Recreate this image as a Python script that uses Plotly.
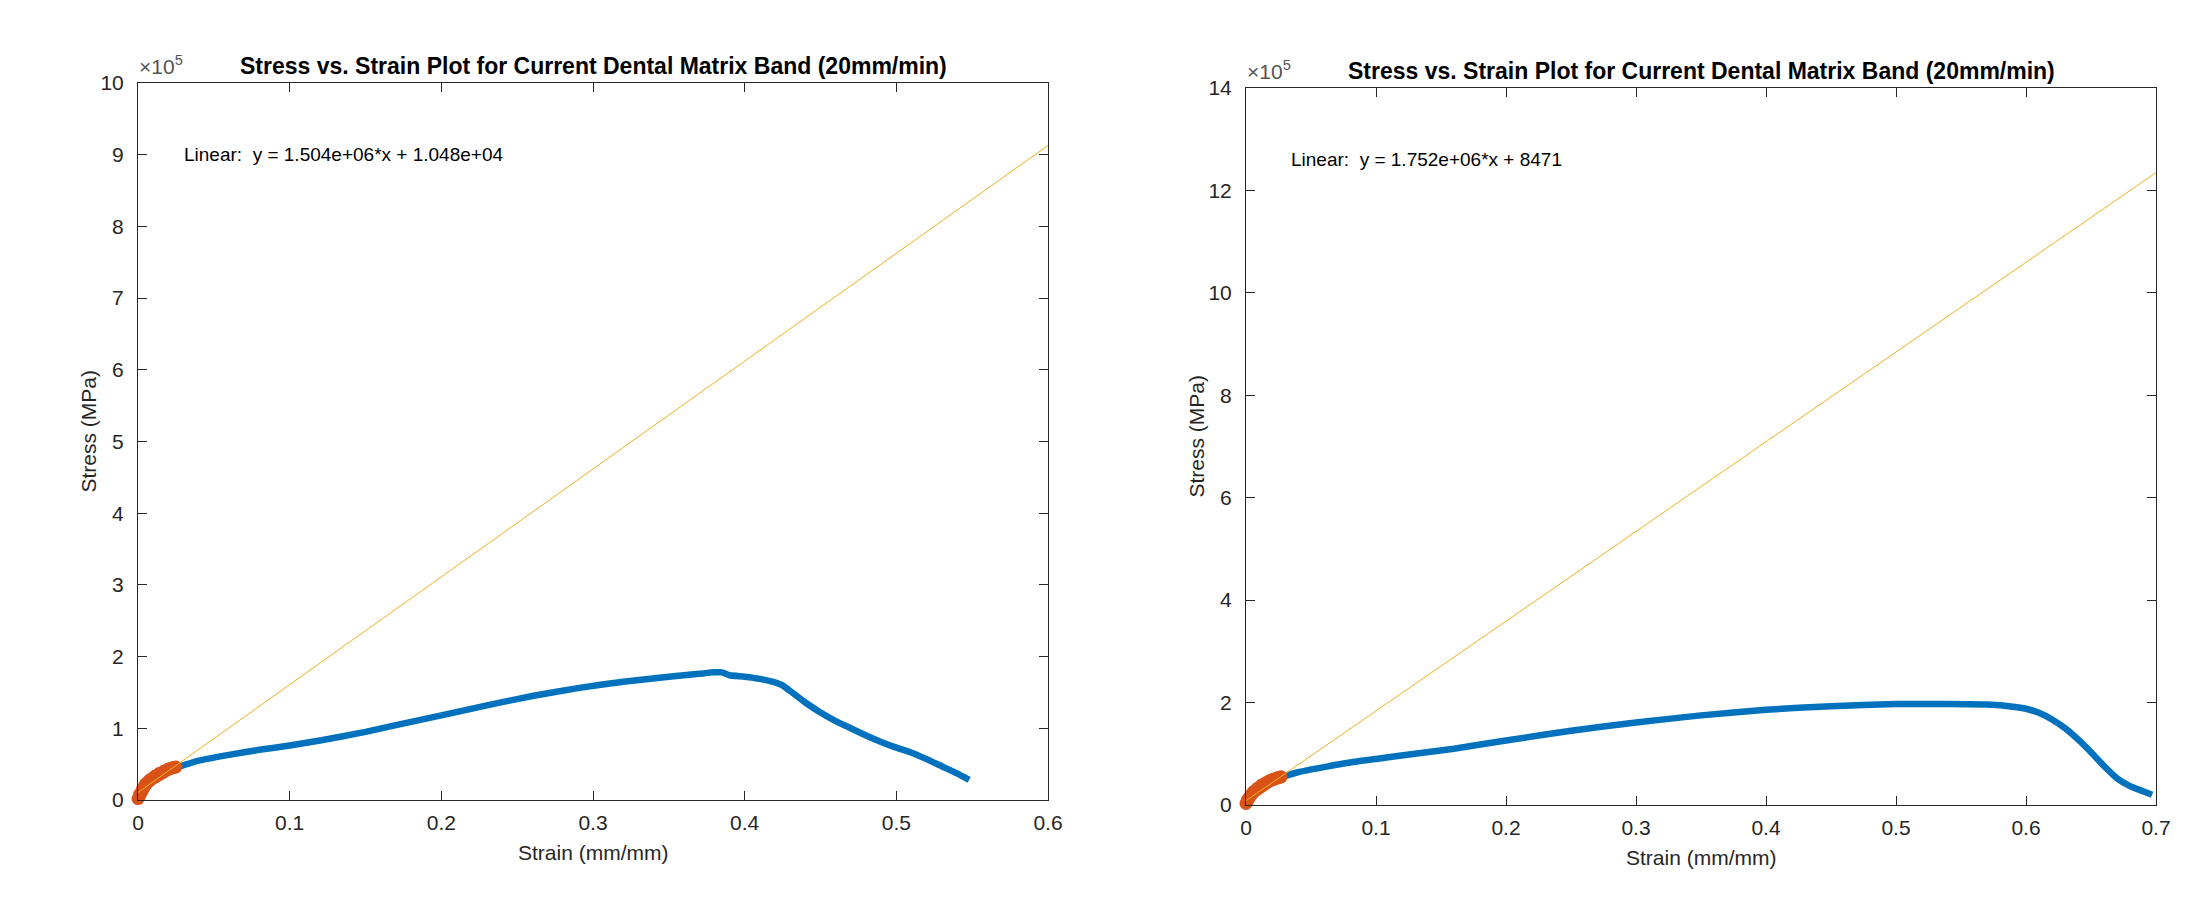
import plotly.graph_objects as go

# ---------------- data (stress in units of 1e5) ----------------
left_blue_x = [0.025, 0.04, 0.06, 0.08, 0.10, 0.12, 0.15, 0.18, 0.20, 0.23, 0.26, 0.29, 0.32,
               0.35, 0.37, 0.38, 0.385, 0.39, 0.40, 0.41, 0.42, 0.425, 0.43, 0.44, 0.45, 0.46,
               0.47, 0.48, 0.49, 0.50, 0.51, 0.52, 0.53, 0.54, 0.548]
left_blue_y = [0.45, 0.55, 0.63, 0.70, 0.76, 0.83, 0.95, 1.09, 1.18, 1.32, 1.45, 1.56, 1.65,
               1.72, 1.76, 1.78, 1.78, 1.74, 1.72, 1.69, 1.64, 1.60, 1.52, 1.36, 1.22, 1.10,
               1.00, 0.90, 0.81, 0.73, 0.66, 0.57, 0.47, 0.37, 0.28]
left_orange_x = [0.0, 0.001, 0.003, 0.005, 0.008, 0.011, 0.014, 0.017, 0.020, 0.023, 0.025]
left_orange_y = [0.02, 0.08, 0.16, 0.22, 0.28, 0.33, 0.37, 0.40, 0.43, 0.45, 0.46]
left_fit_slope, left_fit_intercept = 1.504e6, 1.048e4
left_fit_x = [0.0, 0.6]

right_blue_x = [0.028, 0.04, 0.06, 0.08, 0.10, 0.13, 0.16, 0.20, 0.25, 0.30, 0.35, 0.40, 0.45,
                0.50, 0.54, 0.57, 0.59, 0.60, 0.61, 0.62, 0.63, 0.64, 0.65, 0.66, 0.67, 0.68,
                0.69, 0.697]
right_blue_y = [0.55, 0.64, 0.74, 0.83, 0.90, 1.00, 1.10, 1.26, 1.45, 1.61, 1.75, 1.86, 1.93,
                1.97, 1.97, 1.96, 1.92, 1.88, 1.80, 1.67, 1.50, 1.28, 1.03, 0.76, 0.52, 0.37,
                0.27, 0.20]
right_orange_x = [0.0, 0.001, 0.003, 0.006, 0.009, 0.012, 0.015, 0.018, 0.021, 0.024, 0.027]
right_orange_y = [0.03, 0.10, 0.17, 0.26, 0.33, 0.39, 0.43, 0.47, 0.50, 0.53, 0.55]
right_fit_slope, right_fit_intercept = 1.752e6, 8471
right_fit_x = [0.0, 0.7]

title_text = "Stress vs. Strain Plot for Current Dental Matrix Band (20mm/min)"
left_eq = "Linear:  y = 1.504e+06*x + 1.048e+04"
right_eq = "Linear:  y = 1.752e+06*x + 8471"
scale = 1e5

BLUE, ORANGE, YELLOW = "#0072BD", "#D95319", "#EDB120"
AX = "#262626"
FONT = "Liberation Sans, Arial, Helvetica, sans-serif"
W, H = 2212, 899

fig = go.Figure()

def add_panel(xa, ya, bx, by, ox, oy, fx, slope, icpt):
    fy = [(slope * x + icpt) / scale for x in fx]
    fig.add_trace(go.Scatter(x=bx, y=by, mode="lines",
                             line=dict(color=BLUE, width=6.5, shape="spline", smoothing=0.5),
                             xaxis=xa, yaxis=ya, showlegend=False))
    fig.add_trace(go.Scatter(x=ox, y=oy, mode="lines+markers", cliponaxis=False,
                             line=dict(color=ORANGE, width=13),
                             marker=dict(color=ORANGE, size=13),
                             xaxis=xa, yaxis=ya, showlegend=False))
    fig.add_trace(go.Scatter(x=fx, y=fy, mode="lines", line=dict(color=YELLOW, width=1),
                             xaxis=xa, yaxis=ya, showlegend=False))

add_panel("x", "y", left_blue_x, left_blue_y, left_orange_x, left_orange_y,
          left_fit_x, left_fit_slope, left_fit_intercept)
add_panel("x2", "y2", right_blue_x, right_blue_y, right_orange_x, right_orange_y,
          right_fit_x, right_fit_slope, right_fit_intercept)

def px_x(p):
    return p / W

def px_y(p):
    return 1 - p / H

axis_common = dict(showline=True, linecolor=AX, linewidth=1, mirror="ticks", ticks="inside",
                   ticklen=9, tickcolor=AX, showgrid=False, zeroline=False, automargin=False,
                   tickfont=dict(family=FONT, size=21, color=AX), fixedrange=True)
xax = dict(axis_common, ticklabelstandoff=4)
yax = dict(axis_common, ticklabelstandoff=9)

L = (130, 1040, 75, 792)
R = (1238, 2148, 80, 797)

fig.update_layout(
    width=W, height=H, margin=dict(l=0, r=0, t=0, b=0, autoexpand=False),
    paper_bgcolor="white", plot_bgcolor="white",
    xaxis=dict(domain=[px_x(L[0]), px_x(L[1])], range=[0, 0.6], dtick=0.1, anchor="y", **xax),
    yaxis=dict(domain=[px_y(L[3]), px_y(L[2])], range=[0, 10], dtick=1, anchor="x", **yax),
    xaxis2=dict(domain=[px_x(R[0]), px_x(R[1])], range=[0, 0.7], dtick=0.1, anchor="y2", **xax),
    yaxis2=dict(domain=[px_y(R[3]), px_y(R[2])], range=[0, 14], dtick=2, anchor="x2", **yax),
)

ann = []
for (box, eqtext, eqx, eqy, xr, yr) in [(L, left_eq, 0.029, 9.0, "x", "y"),
                                        (R, right_eq, 0.033, 12.6, "x2", "y2")]:
    cx = (box[0] + box[1]) / 2
    ann.append(dict(text="<b>" + title_text + "</b>", x=px_x(cx), y=px_y(box[2] - 17),
                    xref="paper", yref="paper", xanchor="center", yanchor="middle",
                    showarrow=False, font=dict(family=FONT, size=23, color="black")))
    ann.append(dict(text="×10<sup>5</sup>", x=px_x(box[0] - 1), y=px_y(box[2] - 3),
                    xref="paper", yref="paper", xanchor="left", yanchor="bottom",
                    showarrow=False, font=dict(family=FONT, size=21, color="#555555")))
    ann.append(dict(text="Strain (mm/mm)", x=px_x(cx), y=px_y(box[3] + 52),
                    xref="paper", yref="paper", xanchor="center", yanchor="middle",
                    showarrow=False, font=dict(family=FONT, size=21, color=AX)))
    ann.append(dict(text="Stress (MPa)", x=px_x(box[0] - 50), y=px_y((box[2] + box[3]) / 2 - 10),
                    xref="paper", yref="paper", xanchor="center", yanchor="middle", textangle=-90,
                    showarrow=False, font=dict(family=FONT, size=21, color=AX)))
    ann.append(dict(text=eqtext, x=eqx, y=eqy, xref=xr, yref=yr, xanchor="left",
                    yanchor="middle", showarrow=False,
                    font=dict(family=FONT, size=19, color="black")))
fig.update_layout(annotations=ann)

fig.write_html("out.html")
